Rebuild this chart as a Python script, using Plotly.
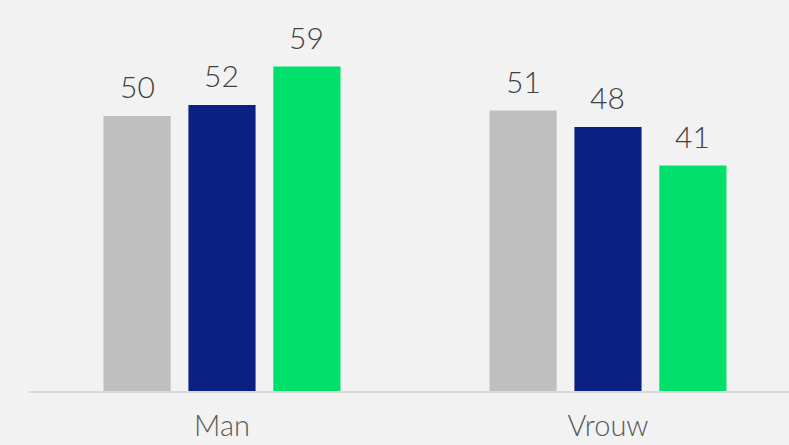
import plotly.graph_objects as go

categories = ["Man", "Vrouw"]
series_names = ["Reeks 1", "Reeks 2", "Reeks 3"]
series_values = [
    [50, 51],
    [52, 48],
    [59, 41],
]
series_colors = ["#bfbfbf", "#0c2083", "#00e06b"]

# bar layout within each category (in category units)
slot = 0.22
bar_width = 0.174

label_font = dict(family="Lato, Open Sans, sans-serif", size=30, color="#404040", weight=300)

fig = go.Figure()
for i, (name, vals, col) in enumerate(zip(series_names, series_values, series_colors)):
    xs = [c + (i - 1) * slot for c in range(len(categories))]
    fig.add_trace(go.Bar(
        x=xs, y=vals, name=name, width=bar_width,
        marker=dict(color=col, line=dict(width=0)),
        hoverinfo="skip",
    ))
    for x, v in zip(xs, vals):
        fig.add_annotation(
            x=x, y=v, text=str(v), showarrow=False,
            yanchor="bottom", yshift=10,
            font=label_font,
        )

fig.update_layout(
    width=789, height=445,
    margin=dict(l=29, r=0, t=0, b=54),
    paper_bgcolor="#f2f2f2", plot_bgcolor="#f2f2f2",
    showlegend=False,
    barmode="overlay",
    xaxis=dict(
        range=[-0.5, 1.469],
        tickvals=list(range(len(categories))), ticktext=categories,
        showgrid=False, zeroline=False, automargin=False,
        showline=True, linecolor="#d9d9d9", linewidth=2,
        ticks="", ticklen=0, ticklabelstandoff=8,
        tickfont=dict(family="Lato, Open Sans, sans-serif", size=29, color="#595959", weight=300),
    ),
    yaxis=dict(
        range=[0, 71.1], visible=False, showgrid=False, zeroline=False,
    ),
)

fig.write_html("out.html")
